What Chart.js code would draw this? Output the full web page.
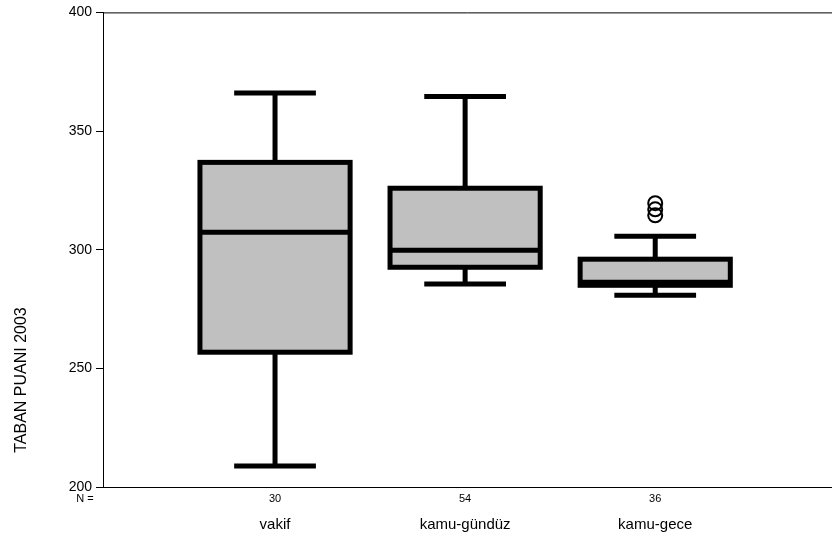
<!DOCTYPE html>
<html><head><meta charset="utf-8">
<script src="https://cdn.jsdelivr.net/npm/chart.js@4/dist/chart.umd.min.js"></script>
<style>body{margin:0;background:#fff}</style>
</head><body>
<canvas id="c" width="832" height="540"></canvas>
<script>
// Box plot data
const groups = ['vakif', 'kamu-gündüz', 'kamu-gece'];
const counts = [30, 54, 36];
const mins = [208.8, 285.5, 280.8];
const q1s = [256.8, 292.6, 285.0];
const medians = [307.4, 299.8, 286.3];
const q3s = [336.8, 325.9, 296.0];
const maxs = [366, 364.6, 305.7];
const outliers = [[], [], [319.6, 317.0, 314.5]];

const boxPlugin = {
    id: 'boxes',
    afterDatasetsDraw(chart) {
        const c = chart.ctx, x = chart.scales.x, y = chart.scales.y;
        const half = 0.395 * (x.getPixelForValue(1) - x.getPixelForValue(0));
        const cap = 0.215 * (x.getPixelForValue(1) - x.getPixelForValue(0));
        c.save();
        c.strokeStyle = '#000';
        c.lineWidth = 5;
        groups.forEach((g, i) => {
            const cx = x.getPixelForValue(i + 1);
            const yMin = y.getPixelForValue(mins[i]), yMax = y.getPixelForValue(maxs[i]);
            const yQ1 = y.getPixelForValue(q1s[i]), yQ3 = y.getPixelForValue(q3s[i]);
            const yMed = y.getPixelForValue(medians[i]);
            c.beginPath();
            c.moveTo(cx, yMax); c.lineTo(cx, yQ3);
            c.moveTo(cx, yQ1); c.lineTo(cx, yMin);
            c.moveTo(cx - cap, yMax); c.lineTo(cx + cap, yMax);
            c.moveTo(cx - cap, yMin); c.lineTo(cx + cap, yMin);
            c.stroke();
            c.fillStyle = '#c0c0c0';
            c.fillRect(cx - half, yQ3, 2 * half, yQ1 - yQ3);
            c.strokeRect(cx - half, yQ3, 2 * half, yQ1 - yQ3);
            c.beginPath();
            c.moveTo(cx - half, yMed); c.lineTo(cx + half, yMed);
            c.stroke();
            c.lineWidth = 2;
            outliers[i].forEach(v => {
                c.beginPath();
                c.arc(cx, y.getPixelForValue(v), 7, 0, Math.PI * 2);
                c.stroke();
            });
            c.lineWidth = 5;
            // labels
            c.fillStyle = '#000';
            c.textAlign = 'center';
            c.textBaseline = 'middle';
            c.font = '11px Arial, "Liberation Sans"';
            c.fillText(String(counts[i]), cx, 499);
            c.font = '15px Arial, "Liberation Sans"';
            c.fillText(g, cx, 525);
        });
        c.font = '11px Arial, "Liberation Sans"';
        c.fillText('N =', 85, 499);
        // top and right frame
        c.lineWidth = 1;
        c.beginPath();
        c.moveTo(x.left, y.top + 0.5); c.lineTo(x.right, y.top + 0.5);
        c.stroke();
        // y title
        c.translate(22, 380);
        c.rotate(-Math.PI / 2);
        c.font = '16px Arial, "Liberation Sans"';
        c.fillText('TABAN PUANI 2003', 0, 0);
        c.restore();
    }
};

new Chart(document.getElementById('c'), {
    type: 'scatter',
    data: { datasets: [{ data: [] }] },
    options: {
        responsive: false,
        animation: false,
        layout: { padding: { top: 12, right: 0, left: 0, bottom: 0 } },
        plugins: { legend: { display: false }, tooltip: { enabled: false } },
        scales: {
            x: {
                type: 'linear', min: 0.095, max: 3.93,
                ticks: { display: false },
                grid: { display: false },
                border: { color: '#000', width: 1 },
                afterFit: s => { s.height = 53; }
            },
            y: {
                min: 200, max: 400,
                ticks: { stepSize: 50, color: '#000', font: { size: 14, family: 'Arial, "Liberation Sans"' }, padding: 4 },
                grid: { drawOnChartArea: false, tickLength: 7, color: '#000' },
                border: { color: '#000', width: 1 },
                afterFit: s => { s.width = 103; }
            }
        }
    },
    plugins: [boxPlugin]
});
</script>
</body></html>
